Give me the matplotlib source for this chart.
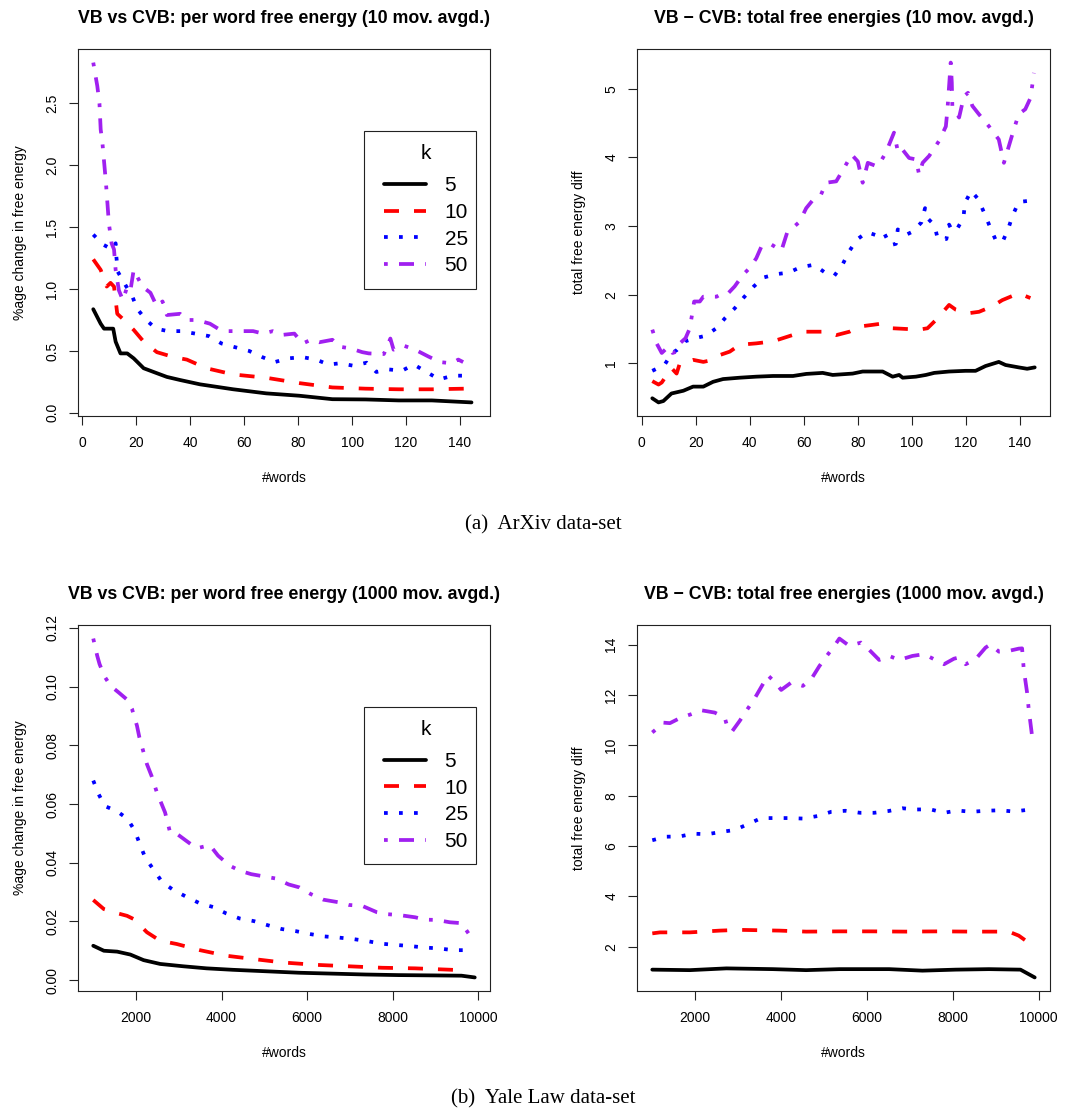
import matplotlib
matplotlib.use("Agg")
import matplotlib.pyplot as plt
from matplotlib.patches import Rectangle

plt.rcParams['font.family'] = ['Liberation Sans', 'DejaVu Sans']

# ---- data ----
k_labels = ["5", "10", "25", "50"]
colors = ["black", "red", "blue", "#A020F0"]
dashes = [None, (4, 4), (1, 3), (1, 3, 4, 3)]

# (a) ArXiv, per word free energy (10 mov. avgd.)
ax_pw_x5 = [4, 6.75, 8, 10.4, 11.4, 12.3, 14.1, 16.6, 19, 22.7, 27.6, 31.3, 36.2, 43.6, 55.9, 68.2, 80.4, 92.7, 105, 117.3, 129.6, 144.3]
ax_pw_y5 = [0.837, 0.72, 0.68, 0.68, 0.68, 0.575, 0.48, 0.48, 0.44, 0.36, 0.32, 0.29, 0.265, 0.23, 0.19, 0.157, 0.138, 0.11, 0.108, 0.10, 0.10, 0.084]
ax_pw_x10 = [4, 6.75, 9, 10.4, 11.7, 12.9, 15.4, 19, 22.7, 27.6, 33.8, 38.7, 46, 55.9, 68.2, 80.4, 92.7, 105, 117.3, 129.6, 141.8, 145.5]
ax_pw_y10 = [1.24, 1.155, 1.02, 1.05, 1.02, 0.80, 0.75, 0.67, 0.575, 0.49, 0.45, 0.43, 0.36, 0.31, 0.283, 0.24, 0.205, 0.195, 0.19, 0.19, 0.195, 0.175]
ax_pw_x25 = [4, 7.6, 11, 12.3, 12.6, 13.1, 16, 18.5, 20.3, 23.6, 27.3, 31.7, 36.6, 41.8, 46.9, 51.6, 56.6, 61.8, 66.7, 71.3, 76.4, 81.5, 86.7, 91.2, 95.5, 100.6, 105.4, 109, 113.8, 118.5, 122.9, 127.6, 132.3, 137.4, 142.7]
ax_pw_y25 = [1.44, 1.36, 1.32, 1.37, 1.255, 1.14, 1.03, 0.94, 0.84, 0.75, 0.68, 0.66, 0.66, 0.64, 0.62, 0.56, 0.53, 0.50, 0.45, 0.41, 0.44, 0.45, 0.43, 0.39, 0.40, 0.38, 0.405, 0.33, 0.35, 0.34, 0.39, 0.33, 0.27, 0.30, 0.30]
ax_pw_x50 = [4, 5.5, 6.3, 6.75, 7.4, 8.7, 9.8, 10.8, 11.7, 12.3, 13.5, 15, 16.6, 17.8, 19, 22.2, 25.2, 27.6, 29.7, 31.3, 36.2, 38.7, 42.4, 47.3, 50.3, 54, 59.6, 63.3, 67, 70.6, 74.3, 78.6, 81.7, 84.7, 87.8, 92.7, 95.2, 99.5, 103.8, 106.2, 111.8, 114.2, 115.4, 119.5, 123.4, 128.3, 132.6, 136.9, 139.4, 141.2]
ax_pw_y50 = [2.83, 2.64, 2.5, 2.29, 2.18, 1.86, 1.53, 1.37, 1.32, 1.155, 0.99, 0.91, 1.02, 0.99, 1.155, 1.02, 0.97, 0.86, 0.90, 0.79, 0.80, 0.75, 0.75, 0.72, 0.68, 0.66, 0.66, 0.66, 0.64, 0.66, 0.63, 0.64, 0.56, 0.59, 0.57, 0.59, 0.535, 0.52, 0.49, 0.48, 0.475, 0.60, 0.51, 0.54, 0.51, 0.455, 0.41, 0.40, 0.43, 0.41]

# (a) ArXiv, total free energy diff (10 mov. avgd.)
ax_tot_x5 = [3.9, 6.2, 8, 11, 15.4, 19, 22.8, 26.4, 30.1, 36.3, 42.4, 48.6, 56, 60.9, 67, 70.7, 78.1, 81.8, 89.2, 92.9, 95.3, 96.6, 101.5, 105.2, 108.3, 113.8, 119.9, 123.6, 127.3, 132.2, 134.7, 139.6, 142.7, 145.5]
ax_tot_y5 = [0.49, 0.43, 0.45, 0.56, 0.60, 0.66, 0.66, 0.73, 0.77, 0.79, 0.805, 0.815, 0.815, 0.845, 0.86, 0.83, 0.85, 0.88, 0.88, 0.805, 0.83, 0.79, 0.805, 0.83, 0.86, 0.88, 0.89, 0.89, 0.96, 1.02, 0.975, 0.94, 0.92, 0.94]
ax_tot_x10 = [3.9, 6.2, 7.4, 11, 12.9, 14.1, 19, 22.8, 26.4, 28.9, 32.6, 36.3, 42.4, 48.6, 52.2, 59.7, 64.6, 68.3, 72, 76.9, 80.6, 85.5, 89.2, 92.9, 97.8, 102.7, 105.8, 108.9, 113.8, 116.3, 121.2, 124.9, 129.8, 133.5, 139.6, 143.9]
ax_tot_y10 = [0.74, 0.69, 0.72, 0.93, 0.85, 1.0, 1.05, 1.02, 1.05, 1.12, 1.17, 1.27, 1.29, 1.32, 1.365, 1.46, 1.46, 1.46, 1.41, 1.46, 1.535, 1.56, 1.58, 1.51, 1.50, 1.49, 1.51, 1.63, 1.85, 1.78, 1.73, 1.75, 1.83, 1.92, 2.02, 1.95]
ax_tot_x25 = [3.9, 8.4, 11.2, 12.9, 16, 19.7, 23.6, 27.6, 30.9, 34.4, 37.8, 41.5, 45.1, 50.1, 54.3, 58.8, 63.8, 67.9, 71.3, 74.3, 76.8, 79.6, 83.4, 87.2, 89.7, 92, 94.1, 94.8, 97.3, 100.4, 103.5, 104.9, 105.9, 108.4, 109.6, 112.8, 113.8, 114.8, 116.4, 119.1, 119.7, 122, 124.6, 126.7, 128.8, 131, 133.5, 135.7, 137.4, 139.6, 144.2]
ax_tot_y25 = [0.89, 0.975, 1.15, 1.19, 1.32, 1.365, 1.40, 1.51, 1.66, 1.80, 1.96, 2.12, 2.25, 2.30, 2.32, 2.40, 2.435, 2.32, 2.275, 2.435, 2.63, 2.80, 2.91, 2.86, 2.90, 2.72, 2.74, 2.95, 2.86, 2.92, 3.05, 3.26, 3.11, 3.01, 2.81, 2.81, 3.02, 2.94, 2.93, 3.12, 3.34, 3.51, 3.39, 3.20, 3.0, 2.80, 2.76, 2.96, 3.16, 3.35, 3.37]
ax_tot_x50 = [3.9, 5.5, 7.4, 9.8, 11.4, 12.9, 14.1, 16.2, 17.8, 19.4, 21.5, 22.8, 24.6, 27.7, 29.9, 32, 34.4, 37.5, 40, 42.4, 44.3, 48, 51.7, 53.8, 58.4, 60.9, 63.4, 66.4, 68.3, 72, 75, 77.7, 80, 81.8, 83.7, 87, 88.2, 90.4, 93.4, 94.8, 96, 99, 101.5, 102.7, 104, 106.4, 110.1, 112.6, 113.2, 114.4, 114.8, 115, 117.5, 119.3, 120.8, 122.4, 124.8, 128.6, 132.2, 134.1, 135.9, 137.8, 139.6, 142, 144, 145.2]
ax_tot_y50 = [1.49, 1.29, 1.15, 1.24, 1.15, 1.17, 1.29, 1.365, 1.51, 1.90, 1.90, 1.97, 1.97, 1.97, 2.02, 2.02, 2.12, 2.29, 2.39, 2.53, 2.70, 2.73, 2.64, 2.90, 3.06, 3.26, 3.38, 3.46, 3.63, 3.65, 3.85, 4.04, 3.94, 3.63, 3.92, 3.87, 3.92, 4.07, 4.36, 4.09, 4.14, 3.99, 3.97, 3.75, 3.92, 4.02, 4.24, 4.45, 4.70, 5.38, 5.09, 4.75, 4.58, 4.89, 4.94, 4.75, 4.63, 4.45, 4.26, 3.92, 4.16, 4.41, 4.63, 4.70, 4.87, 5.23]

# (b) Yale Law, per word free energy (1000 mov. avgd.)
yl_pw_x5 = [1001, 1249, 1559, 1868, 2178, 2565, 3107, 3650, 4269, 5043, 5818, 6592, 7367, 8141, 8915, 9612, 9922]
yl_pw_y5 = [0.0117, 0.0100, 0.0097, 0.0087, 0.0068, 0.0055, 0.0047, 0.0040, 0.0035, 0.0030, 0.0025, 0.0022, 0.0019, 0.0017, 0.0016, 0.0015, 0.0009]
yl_pw_x10 = [1001, 1249, 1559, 1791, 1946, 2256, 2565, 2953, 3495, 4114, 4734, 5431, 6205, 6980, 7754, 8528, 9574]
yl_pw_y10 = [0.0273, 0.0242, 0.0228, 0.0219, 0.0208, 0.0163, 0.0134, 0.0123, 0.0102, 0.0083, 0.0072, 0.0060, 0.0052, 0.0047, 0.0042, 0.0040, 0.0034]
yl_pw_x25 = [1001, 1125, 1272, 1551, 1799, 1969, 2093, 2217, 2418, 2612, 2875, 3177, 3487, 3804, 4114, 4424, 4757, 5082, 5407, 5733, 6066, 6391, 6732, 7072, 7405, 7739, 8064, 8412, 8745, 9078, 9419, 9752]
yl_pw_y25 = [0.0680, 0.0634, 0.0593, 0.0576, 0.0550, 0.0510, 0.0462, 0.0417, 0.0375, 0.0334, 0.0307, 0.0284, 0.0262, 0.0249, 0.0227, 0.0210, 0.0201, 0.0187, 0.0174, 0.0167, 0.0157, 0.0149, 0.0145, 0.0140, 0.0133, 0.0124, 0.0120, 0.0116, 0.0111, 0.0108, 0.0102, 0.0102]
yl_pw_x50 = [1001, 1094, 1148, 1264, 1404, 1597, 1775, 1907, 2023, 2077, 2178, 2256, 2364, 2488, 2681, 2798, 2914, 3154, 3417, 3727, 3920, 4192, 4424, 4695, 5043, 5276, 5570, 5818, 6089, 6384, 6747, 6980, 7289, 7638, 7831, 8141, 8528, 8761, 9032, 9341, 9612, 9814]
yl_pw_y50 = [0.1164, 0.1105, 0.1077, 0.1035, 0.1003, 0.0980, 0.0958, 0.0924, 0.0867, 0.0829, 0.0776, 0.0736, 0.0696, 0.0640, 0.0571, 0.0503, 0.0503, 0.0477, 0.0449, 0.0460, 0.0424, 0.0390, 0.0373, 0.0361, 0.0352, 0.0346, 0.0326, 0.0316, 0.0293, 0.0274, 0.0265, 0.0256, 0.0253, 0.0231, 0.0225, 0.0222, 0.0214, 0.0206, 0.0205, 0.0197, 0.0194, 0.0151]

# (b) Yale Law, total free energy diff (1000 mov. avgd.)
yl_tot_x5 = [1002, 1876, 2727, 3810, 4584, 5358, 6132, 6518, 7292, 8066, 8840, 9575, 9907]
yl_tot_y5 = [1.09, 1.07, 1.14, 1.11, 1.07, 1.11, 1.11, 1.11, 1.05, 1.09, 1.11, 1.09, 0.78]
yl_tot_x10 = [1002, 1180, 1876, 2572, 3037, 3965, 4584, 5358, 6132, 6905, 7679, 8453, 9304, 9536, 9807]
yl_tot_y10 = [2.53, 2.57, 2.57, 2.64, 2.67, 2.64, 2.60, 2.61, 2.61, 2.60, 2.61, 2.60, 2.60, 2.44, 2.11]
yl_tot_x25 = [1002, 1319, 1644, 1946, 2279, 2611, 2928, 3230, 3540, 3849, 4182, 4522, 4847, 5172, 5497, 5838, 6170, 6503, 6828, 7137, 7470, 7795, 8104, 8437, 8762, 9095, 9420, 9752]
yl_tot_y25 = [6.23, 6.37, 6.38, 6.49, 6.47, 6.56, 6.64, 6.87, 7.11, 7.11, 7.11, 7.09, 7.19, 7.36, 7.40, 7.32, 7.32, 7.39, 7.50, 7.45, 7.46, 7.32, 7.41, 7.36, 7.40, 7.42, 7.37, 7.44]
yl_tot_x50 = [1002, 1141, 1257, 1412, 1644, 1915, 2147, 2456, 2688, 2766, 2859, 3037, 3192, 3385, 3578, 3694, 3849, 4004, 4236, 4507, 4700, 4894, 5064, 5242, 5358, 5590, 5861, 6054, 6286, 6518, 6751, 7060, 7331, 7563, 7795, 8027, 8143, 8298, 8530, 8762, 8878, 9072, 9304, 9536, 9613, 9652, 9729, 9768, 9845]
yl_tot_y50 = [10.51, 10.71, 10.90, 10.88, 11.08, 11.24, 11.39, 11.30, 11.10, 10.64, 10.55, 10.97, 11.37, 11.86, 12.43, 12.78, 12.52, 12.20, 12.49, 12.36, 12.62, 13.15, 13.55, 13.95, 14.24, 13.95, 14.08, 13.79, 13.39, 13.55, 13.39, 13.55, 13.62, 13.42, 13.22, 13.44, 13.49, 13.22, 13.42, 13.88, 14.01, 13.72, 13.75, 13.84, 13.85, 13.02, 12.10, 11.43, 10.38]

xticks_arxiv = [0, 20, 40, 60, 80, 100, 120, 140]
xticks_yale = [2000, 4000, 6000, 8000, 10000]

# ---- figure ----
W, H = 1070, 1114
fig = plt.figure(figsize=(W / 100, H / 100), dpi=100)


def px_axes(left, top, right, bottom):
    return fig.add_axes([left / W, 1 - bottom / H, (right - left) / W, (bottom - top) / H])


LW = 2.7


def draw(ax, xs, ys, title, ylabel, xticks, yticks, ytick_fmt, legend=False):
    handles = []
    for x, y, c, d in zip(xs, ys, colors, dashes):
        ln, = ax.plot(x, y, color=c, lw=LW, solid_capstyle='round', dash_capstyle='butt',
                      solid_joinstyle='round', dash_joinstyle='round')
        if d is not None:
            ln.set_dashes(d)
        handles.append(ln)
    ax.margins(x=0.04, y=0.04)
    ax.set_xticks(xticks)
    ax.set_yticks(yticks)
    ax.set_yticklabels([ytick_fmt.format(v) for v in yticks], rotation=90, va='center')
    ax.tick_params(direction='out', length=6.5, width=0.8, labelsize=10, color='#222222')
    ax.tick_params(axis='x', pad=8)
    ax.tick_params(axis='y', pad=7)
    for s in ax.spines.values():
        s.set_linewidth(0.8)
        s.set_color('#222222')
    ax.set_title(title, fontsize=12.8, fontweight='bold', pad=19)
    ax.set_xlabel("#words", fontsize=10, labelpad=15)
    ax.set_ylabel(ylabel, fontsize=10, labelpad=13)
    if legend:
        leg = ax.legend(handles, k_labels, title="k", loc='upper left',
                        bbox_to_anchor=(0.743, 0.741), fontsize=15, title_fontsize=15,
                        frameon=False, handlelength=2.0, handletextpad=0.9,
                        labelspacing=0.37, borderpad=0, borderaxespad=0)
        leg._legend_box.sep = 9.5
        ax.add_patch(Rectangle((0.694, 0.346), 0.272, 0.43, transform=ax.transAxes,
                               fill=False, lw=0.8, edgecolor='#222222', zorder=5))
    return ax


ax1 = px_axes(78, 49, 490, 416)
draw(ax1, [ax_pw_x5, ax_pw_x10, ax_pw_x25, ax_pw_x50], [ax_pw_y5, ax_pw_y10, ax_pw_y25, ax_pw_y50],
     "VB vs CVB: per word free energy (10 mov. avgd.)", "%age change in free energy",
     xticks_arxiv, [0.0, 0.5, 1.0, 1.5, 2.0, 2.5], "{:.1f}", legend=True)

ax2 = px_axes(637, 49, 1050, 416)
draw(ax2, [ax_tot_x5, ax_tot_x10, ax_tot_x25, ax_tot_x50], [ax_tot_y5, ax_tot_y10, ax_tot_y25, ax_tot_y50],
     "VB \u2212 CVB: total free energies (10 mov. avgd.)", "total free energy diff",
     xticks_arxiv, [1, 2, 3, 4, 5], "{:d}")

ax3 = px_axes(78, 625, 490, 991)
draw(ax3, [yl_pw_x5, yl_pw_x10, yl_pw_x25, yl_pw_x50], [yl_pw_y5, yl_pw_y10, yl_pw_y25, yl_pw_y50],
     "VB vs CVB: per word free energy (1000 mov. avgd.)", "%age change in free energy",
     xticks_yale, [0.00, 0.02, 0.04, 0.06, 0.08, 0.10, 0.12], "{:.2f}", legend=True)

ax4 = px_axes(637, 625, 1050, 991)
draw(ax4, [yl_tot_x5, yl_tot_x10, yl_tot_x25, yl_tot_x50], [yl_tot_y5, yl_tot_y10, yl_tot_y25, yl_tot_y50],
     "VB \u2212 CVB: total free energies (1000 mov. avgd.)", "total free energy diff",
     xticks_yale, [2, 4, 6, 8, 10, 12, 14], "{:d}")

serif = ['Liberation Serif', 'DejaVu Serif']
fig.text(543 / W, 1 - 525 / H, "(a)  ArXiv data-set", ha='center', va='center',
         fontsize=15, family=serif)
fig.text(543 / W, 1 - 1099 / H, "(b)  Yale Law data-set", ha='center', va='center',
         fontsize=15, family=serif)

fig.savefig("out.png", dpi=100)
